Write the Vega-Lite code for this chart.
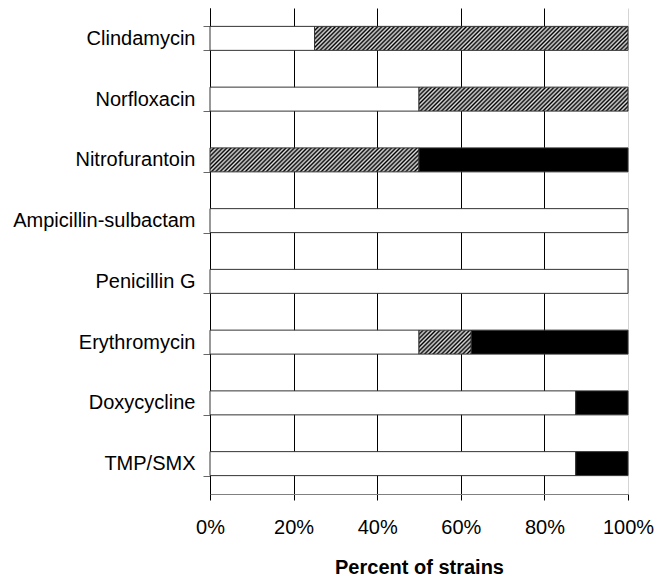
{
  "$schema": "https://vega.github.io/schema/vega-lite/v6.json",
  "width": 418,
  "height": 486,
  "autosize": {"type": "none"},
  "padding": {"left": 210, "top": 8, "right": 28, "bottom": 83},
  "background": "white",
  "config": {"view": {"stroke": null}, "font": "Liberation Sans"},
  "params": [
    {"name": "hs", "value": [
      {"offset":0,"color":"#000"},{"offset":0.00625,"color":"#e0e0e0"},{"offset":0.0125,"color":"#000"},{"offset":0.01875,"color":"#e0e0e0"},{"offset":0.025,"color":"#000"},{"offset":0.03125,"color":"#e0e0e0"},{"offset":0.0375,"color":"#000"},{"offset":0.04375,"color":"#e0e0e0"},{"offset":0.05,"color":"#000"},{"offset":0.05625,"color":"#e0e0e0"},{"offset":0.0625,"color":"#000"},{"offset":0.06875,"color":"#e0e0e0"},{"offset":0.075,"color":"#000"},{"offset":0.08125,"color":"#e0e0e0"},{"offset":0.0875,"color":"#000"},{"offset":0.09375,"color":"#e0e0e0"},
      {"offset":0.1,"color":"#000"},{"offset":0.10625,"color":"#e0e0e0"},{"offset":0.1125,"color":"#000"},{"offset":0.11875,"color":"#e0e0e0"},{"offset":0.125,"color":"#000"},{"offset":0.13125,"color":"#e0e0e0"},{"offset":0.1375,"color":"#000"},{"offset":0.14375,"color":"#e0e0e0"},{"offset":0.15,"color":"#000"},{"offset":0.15625,"color":"#e0e0e0"},{"offset":0.1625,"color":"#000"},{"offset":0.16875,"color":"#e0e0e0"},{"offset":0.175,"color":"#000"},{"offset":0.18125,"color":"#e0e0e0"},{"offset":0.1875,"color":"#000"},{"offset":0.19375,"color":"#e0e0e0"},
      {"offset":0.2,"color":"#000"},{"offset":0.20625,"color":"#e0e0e0"},{"offset":0.2125,"color":"#000"},{"offset":0.21875,"color":"#e0e0e0"},{"offset":0.225,"color":"#000"},{"offset":0.23125,"color":"#e0e0e0"},{"offset":0.2375,"color":"#000"},{"offset":0.24375,"color":"#e0e0e0"},{"offset":0.25,"color":"#000"},{"offset":0.25625,"color":"#e0e0e0"},{"offset":0.2625,"color":"#000"},{"offset":0.26875,"color":"#e0e0e0"},{"offset":0.275,"color":"#000"},{"offset":0.28125,"color":"#e0e0e0"},{"offset":0.2875,"color":"#000"},{"offset":0.29375,"color":"#e0e0e0"},
      {"offset":0.3,"color":"#000"},{"offset":0.30625,"color":"#e0e0e0"},{"offset":0.3125,"color":"#000"},{"offset":0.31875,"color":"#e0e0e0"},{"offset":0.325,"color":"#000"},{"offset":0.33125,"color":"#e0e0e0"},{"offset":0.3375,"color":"#000"},{"offset":0.34375,"color":"#e0e0e0"},{"offset":0.35,"color":"#000"},{"offset":0.35625,"color":"#e0e0e0"},{"offset":0.3625,"color":"#000"},{"offset":0.36875,"color":"#e0e0e0"},{"offset":0.375,"color":"#000"},{"offset":0.38125,"color":"#e0e0e0"},{"offset":0.3875,"color":"#000"},{"offset":0.39375,"color":"#e0e0e0"},
      {"offset":0.4,"color":"#000"},{"offset":0.40625,"color":"#e0e0e0"},{"offset":0.4125,"color":"#000"},{"offset":0.41875,"color":"#e0e0e0"},{"offset":0.425,"color":"#000"},{"offset":0.43125,"color":"#e0e0e0"},{"offset":0.4375,"color":"#000"},{"offset":0.44375,"color":"#e0e0e0"},{"offset":0.45,"color":"#000"},{"offset":0.45625,"color":"#e0e0e0"},{"offset":0.4625,"color":"#000"},{"offset":0.46875,"color":"#e0e0e0"},{"offset":0.475,"color":"#000"},{"offset":0.48125,"color":"#e0e0e0"},{"offset":0.4875,"color":"#000"},{"offset":0.49375,"color":"#e0e0e0"},
      {"offset":0.5,"color":"#000"},{"offset":0.50625,"color":"#e0e0e0"},{"offset":0.5125,"color":"#000"},{"offset":0.51875,"color":"#e0e0e0"},{"offset":0.525,"color":"#000"},{"offset":0.53125,"color":"#e0e0e0"},{"offset":0.5375,"color":"#000"},{"offset":0.54375,"color":"#e0e0e0"},{"offset":0.55,"color":"#000"},{"offset":0.55625,"color":"#e0e0e0"},{"offset":0.5625,"color":"#000"},{"offset":0.56875,"color":"#e0e0e0"},{"offset":0.575,"color":"#000"},{"offset":0.58125,"color":"#e0e0e0"},{"offset":0.5875,"color":"#000"},{"offset":0.59375,"color":"#e0e0e0"},
      {"offset":0.6,"color":"#000"},{"offset":0.60625,"color":"#e0e0e0"},{"offset":0.6125,"color":"#000"},{"offset":0.61875,"color":"#e0e0e0"},{"offset":0.625,"color":"#000"},{"offset":0.63125,"color":"#e0e0e0"},{"offset":0.6375,"color":"#000"},{"offset":0.64375,"color":"#e0e0e0"},{"offset":0.65,"color":"#000"},{"offset":0.65625,"color":"#e0e0e0"},{"offset":0.6625,"color":"#000"},{"offset":0.66875,"color":"#e0e0e0"},{"offset":0.675,"color":"#000"},{"offset":0.68125,"color":"#e0e0e0"},{"offset":0.6875,"color":"#000"},{"offset":0.69375,"color":"#e0e0e0"},
      {"offset":0.7,"color":"#000"},{"offset":0.70625,"color":"#e0e0e0"},{"offset":0.7125,"color":"#000"},{"offset":0.71875,"color":"#e0e0e0"},{"offset":0.725,"color":"#000"},{"offset":0.73125,"color":"#e0e0e0"},{"offset":0.7375,"color":"#000"},{"offset":0.74375,"color":"#e0e0e0"},{"offset":0.75,"color":"#000"},{"offset":0.75625,"color":"#e0e0e0"},{"offset":0.7625,"color":"#000"},{"offset":0.76875,"color":"#e0e0e0"},{"offset":0.775,"color":"#000"},{"offset":0.78125,"color":"#e0e0e0"},{"offset":0.7875,"color":"#000"},{"offset":0.79375,"color":"#e0e0e0"},
      {"offset":0.8,"color":"#000"},{"offset":0.80625,"color":"#e0e0e0"},{"offset":0.8125,"color":"#000"},{"offset":0.81875,"color":"#e0e0e0"},{"offset":0.825,"color":"#000"},{"offset":0.83125,"color":"#e0e0e0"},{"offset":0.8375,"color":"#000"},{"offset":0.84375,"color":"#e0e0e0"},{"offset":0.85,"color":"#000"},{"offset":0.85625,"color":"#e0e0e0"},{"offset":0.8625,"color":"#000"},{"offset":0.86875,"color":"#e0e0e0"},{"offset":0.875,"color":"#000"},{"offset":0.88125,"color":"#e0e0e0"},{"offset":0.8875,"color":"#000"},{"offset":0.89375,"color":"#e0e0e0"},
      {"offset":0.9,"color":"#000"},{"offset":0.90625,"color":"#e0e0e0"},{"offset":0.9125,"color":"#000"},{"offset":0.91875,"color":"#e0e0e0"},{"offset":0.925,"color":"#000"},{"offset":0.93125,"color":"#e0e0e0"},{"offset":0.9375,"color":"#000"},{"offset":0.94375,"color":"#e0e0e0"},{"offset":0.95,"color":"#000"},{"offset":0.95625,"color":"#e0e0e0"},{"offset":0.9625,"color":"#000"},{"offset":0.96875,"color":"#e0e0e0"},{"offset":0.975,"color":"#000"},{"offset":0.98125,"color":"#e0e0e0"},{"offset":0.9875,"color":"#000"},{"offset":0.99375,"color":"#e0e0e0"},
      {"offset":1,"color":"#000"}
    ]},
    {"name": "gA", "expr": "{gradient: 'linear', x1: 0, y1: 0, x2: 1.0719, y2: 0.08206, stops: hs}"},
    {"name": "gB", "expr": "{gradient: 'linear', x1: 0, y1: 0, x2: 1.5962, y2: 0.1833, stops: hs}"},
    {"name": "gC", "expr": "{gradient: 'linear', x1: 0, y1: 0, x2: 5.3419, y2: 2.4537, stops: hs}"}
  ],
  "data": {"values": [
    {"drug": "Clindamycin", "cat": "Susceptible", "pct": 25},
    {"drug": "Clindamycin", "cat": "Intermediate", "pct": 75},
    {"drug": "Norfloxacin", "cat": "Susceptible", "pct": 50},
    {"drug": "Norfloxacin", "cat": "Intermediate", "pct": 50},
    {"drug": "Nitrofurantoin", "cat": "Intermediate", "pct": 50},
    {"drug": "Nitrofurantoin", "cat": "Resistant", "pct": 50},
    {"drug": "Ampicillin-sulbactam", "cat": "Susceptible", "pct": 100},
    {"drug": "Penicillin G", "cat": "Susceptible", "pct": 100},
    {"drug": "Erythromycin", "cat": "Susceptible", "pct": 50},
    {"drug": "Erythromycin", "cat": "Intermediate", "pct": 12.5},
    {"drug": "Erythromycin", "cat": "Resistant", "pct": 37.5},
    {"drug": "Doxycycline", "cat": "Susceptible", "pct": 87.5},
    {"drug": "Doxycycline", "cat": "Resistant", "pct": 12.5},
    {"drug": "TMP/SMX", "cat": "Susceptible", "pct": 87.5},
    {"drug": "TMP/SMX", "cat": "Resistant", "pct": 12.5}
  ]},
  "transform": [
    {"calculate": "indexof(['Susceptible','Intermediate','Resistant'], datum.cat)", "as": "ord"}
  ],
  "mark": {"type": "bar", "stroke": "#333", "strokeWidth": 1},
  "encoding": {
    "y": {
      "field": "drug", "type": "nominal",
      "sort": ["Clindamycin", "Norfloxacin", "Nitrofurantoin", "Ampicillin-sulbactam", "Penicillin G", "Erythromycin", "Doxycycline", "TMP/SMX"],
      "scale": {"paddingInner": 0.605, "paddingOuter": 0.3025},
      "axis": {"title": null, "tickBand": "extent", "tickSize": 7, "tickColor": "#666", "domainColor": "#000", "labelFontSize": 20, "labelColor": "#000", "labelPadding": 8, "labelLimit": 400, "grid": false}
    },
    "x": {
      "field": "pct", "type": "quantitative", "stack": "normalize",
      "scale": {"domain": [0, 1]},
      "axis": {
        "title": "Percent of strains",
        "values": [0, 0.2, 0.4, 0.6, 0.8, 1],
        "format": ".0%",
        "grid": true,
        "gridColor": {"condition": {"test": "datum.value === 1", "value": "#d4d4d4"}, "value": "#000"},
        "tickColor": "#000", "tickSize": 6, "domainColor": "#808080",
        "labelFlush": false,
        "labelFontSize": 20, "labelColor": "#000", "labelPadding": 17,
        "titleFontSize": 20, "titleFontWeight": "bold", "titleColor": "#000", "titlePadding": 20
      }
    },
    "detail": {"field": "cat"},
    "order": {"field": "ord"},
    "fill": {
      "condition": [
        {"test": "datum.cat === 'Intermediate' && datum.drug === 'Clindamycin'", "value": {"expr": "gA"}},
        {"test": "datum.cat === 'Intermediate' && (datum.drug === 'Norfloxacin' || datum.drug === 'Nitrofurantoin')", "value": {"expr": "gB"}},
        {"test": "datum.cat === 'Intermediate'", "value": {"expr": "gC"}},
        {"test": "datum.cat === 'Resistant'", "value": "#000"}
      ],
      "value": "#fff"
    }
  }
}
